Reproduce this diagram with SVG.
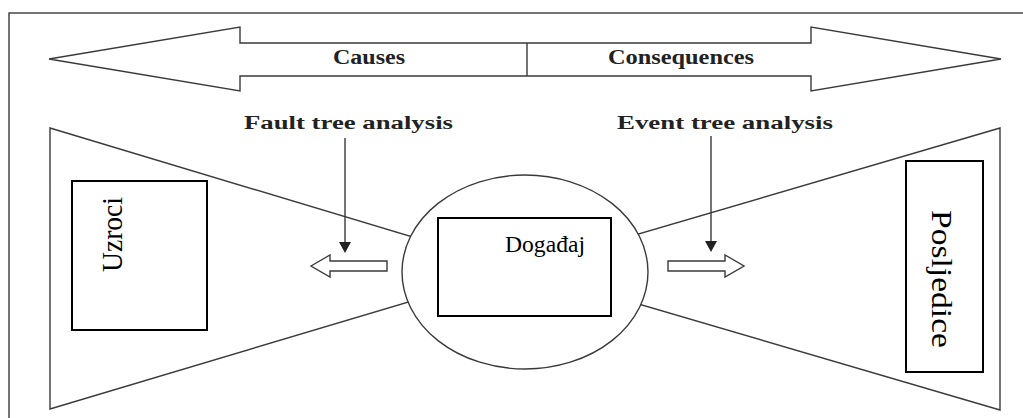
<svg xmlns="http://www.w3.org/2000/svg" width="1023" height="418" viewBox="0 0 1023 418">
<style>
.ln{fill:none;stroke:#3a3a3a;stroke-width:1.4}
.wf{fill:#fff;stroke:#3a3a3a;stroke-width:1.4}
.box{fill:#fff;stroke:#000;stroke-width:2}
.hd{font-family:"Liberation Serif",serif;font-weight:bold;fill:#222}
.lb{font-family:"Liberation Serif",serif;fill:#000}
</style>
<rect x="0" y="0" width="1023" height="418" fill="#fff"/>
<rect id="frame" x="9" y="13" width="1030" height="420" class="ln" stroke="#555"/>
<g id="double-arrow">
<polygon class="wf" points="49,59 240,27 240,43 811,43 811,27 1001,59 811,91 811,76 240,76 240,91"/>
<line class="ln" x1="527" y1="43" x2="527" y2="76"/>
<text class="hd" x="333" y="64" font-size="20" textLength="72" lengthAdjust="spacingAndGlyphs">Causes</text>
<text class="hd" x="608" y="64" font-size="20" textLength="146" lengthAdjust="spacingAndGlyphs">Consequences</text>
</g>
<g id="causes-wedge">
<polygon class="wf" points="50,128 519,269 50,409"/>
</g>
<g id="consequences-wedge">
<polygon class="wf" points="1000,128 519,269 1000,410"/>
</g>
<g id="event-ellipse">
<ellipse class="wf" cx="525" cy="272" rx="123" ry="97"/>
</g>
<g id="uzroci">
<rect class="box" x="72" y="181" width="135" height="149"/>
<text class="lb" x="122" y="272" font-size="29" transform="rotate(-90 122 272)" textLength="75" lengthAdjust="spacingAndGlyphs">Uzroci</text>
</g>
<g id="dogadaj">
<rect class="box" x="438" y="218" width="173" height="98"/>
<text class="lb" x="505" y="252" font-size="23" textLength="80" lengthAdjust="spacingAndGlyphs">Događaj</text>
</g>
<g id="posljedice">
<rect class="box" x="906" y="161" width="77" height="211"/>
<text class="lb" x="932" y="210" font-size="30" transform="rotate(90 932 210)" textLength="138" lengthAdjust="spacingAndGlyphs">Posljedice</text>
</g>
<g id="fta">
<text class="hd" x="244" y="129" font-size="18" textLength="209" lengthAdjust="spacingAndGlyphs">Fault tree analysis</text>
</g>
<g id="eta">
<text class="hd" x="617" y="129" font-size="18" textLength="216" lengthAdjust="spacingAndGlyphs">Event tree analysis</text>
</g>
<g id="connectors">
<line class="ln" x1="345" y1="138" x2="345" y2="244"/>
<polygon points="339,242 351,242 345,253" fill="#222"/>
<line class="ln" x1="711" y1="136" x2="711" y2="243"/>
<polygon points="705,241 717,241 711,252" fill="#222"/>
<polygon class="wf" points="311,266 330,255 330,261 387,261 387,271 330,271 330,277"/>
<polygon class="wf" points="668,261 725,261 725,255 744,266 725,277 725,271 668,271"/>
</g>
</svg>
